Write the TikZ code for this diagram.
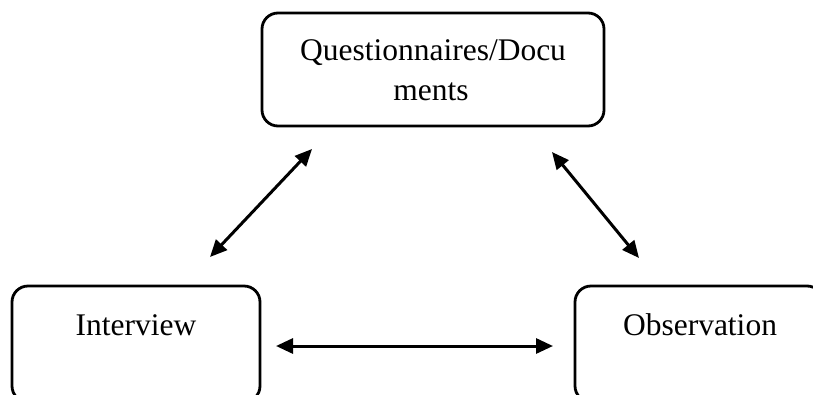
\documentclass[tikz,border=0pt]{standalone}
\usepackage{fontspec}
\setmainfont{Liberation Serif}
\usetikzlibrary{arrows.meta}
\begin{document}
\begin{tikzpicture}[x=1pt,y=-1pt,
  box/.style={draw=black,line width=2.8pt,rounded corners=16pt,minimum width=#1,inner sep=0pt},
  lbl/.style={anchor=base,inner sep=0pt,font=\fontsize{31.5}{37}\selectfont},
  link/.style={line width=3pt,{Triangle[length=17pt,width=15pt]}-{Triangle[length=17pt,width=15pt]}}]
\clip (0,0) rectangle (813,394);
\fill[white] (0,0) rectangle (813,394);
% boxes
\node[box=342pt,minimum height=113pt] (top) at (433,69.5) {};
\node[box=248pt,minimum height=116pt] (left) at (136,344) {};
\node[box=248pt,minimum height=116pt] (right) at (699,344) {};
% texts
\node[lbl] (t1) at (433,60) {Questionnaires/Docu};
\node[lbl] (t2) at (431,100) {ments};
\node[lbl] (t3) at (136,335) {Interview};
\node[lbl] (t4) at (700,335) {Observation};
% arrow ends
\coordinate (a1s) at (312,149);
\coordinate (a1e) at (210,257);
\coordinate (a2s) at (552,152);
\coordinate (a2e) at (639,258);
\coordinate (a3s) at (276,346);
\coordinate (a3e) at (553,346);
\draw[link] (a1s) -- (a1e);
\draw[link] (a2s) -- (a2e);
\draw[link] (a3s) -- (a3e);
\end{tikzpicture}
\end{document}
